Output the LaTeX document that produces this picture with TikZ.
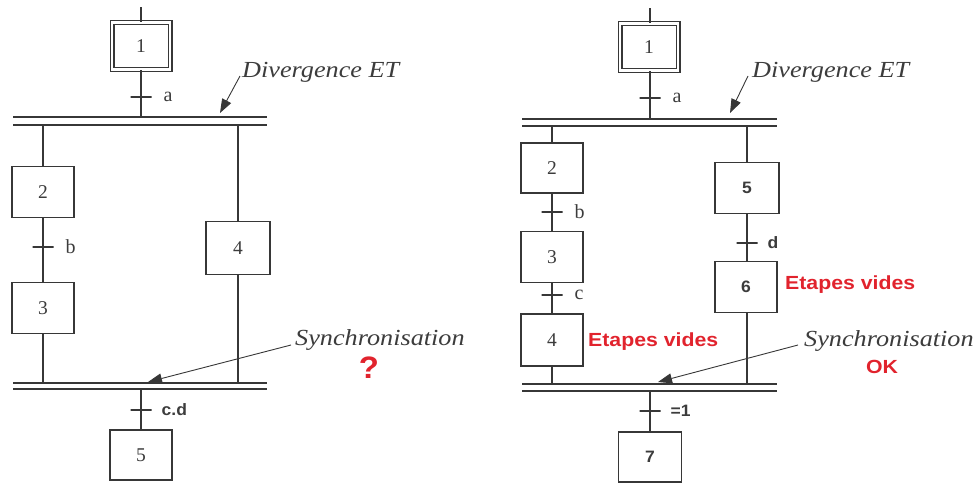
\documentclass[tikz,border=0pt]{standalone}
\usepackage{fontspec}
\setmainfont{Liberation Serif}
\newfontfamily\italfont[FakeStretch=1.14]{Liberation Serif}
\newfontfamily\boldsans[FakeStretch=1.06]{Liberation Sans}
\newfontfamily\redsans[FakeStretch=1.12]{Liberation Sans}
\usetikzlibrary{arrows.meta}
\definecolor{ink}{RGB}{55,55,55}
\definecolor{txt}{RGB}{60,60,60}
\definecolor{redtxt}{RGB}{225,35,45}
\tikzset{
  grline/.style={draw=ink, line width=1.4pt},
  stepbox/.style={draw=ink, line width=1.4pt, rectangle, minimum width=62pt, minimum height=51pt, inner sep=0pt, font=\fontsize{19.5}{22}\selectfont, text=txt},
  bstepbox/.style={stepbox, font=\boldsans\bfseries\fontsize{16.5}{19}\selectfont},
  initbox/.style={draw=ink, line width=1.2pt, double, double distance=2.6pt, rectangle, minimum width=58pt, minimum height=47pt, inner sep=0pt, font=\fontsize{19.5}{22}\selectfont, text=txt},
  trans/.style={draw=ink, line width=1.3pt, rectangle, minimum width=21pt, minimum height=0pt, inner sep=0pt, outer sep=0pt},
  tlab/.style={font=\fontsize{20}{22}\selectfont, text=txt, inner sep=0pt},
  btlab/.style={font=\boldsans\bfseries\fontsize{16.5}{18}\selectfont, text=txt, inner sep=0pt},
  annot/.style={font=\italfont\itshape\fontsize{23}{26}\selectfont, text=txt, inner sep=0pt},
  redlab/.style={font=\redsans\bfseries\fontsize{19}{22}\selectfont, text=redtxt, inner sep=0pt},
  pointer/.style={draw=ink, line width=0.9pt, -{Triangle[length=14pt,width=10pt]}},
}
\begin{document}
\begin{tikzpicture}[x=1pt,y=-1pt]
\useasboundingbox (0,0) rectangle (976,483);
% ================= LEFT =================
\coordinate (Ltop) at (141,7);
\node[initbox] (L1) at (141,46) {1};
\node[trans, label={[tlab,label distance=12pt]right:a}] (LtA) at (141,97) {};
\coordinate (LB1a) at (13,117); \coordinate (LB1b) at (267,117);
\coordinate (LB1c) at (13,125); \coordinate (LB1d) at (267,125);
\node[stepbox] (L2) at (43,192) {2};
\node[trans, label={[tlab,label distance=12pt]right:b}] (LtB) at (43,247) {};
\node[stepbox] (L3) at (43,308) {3};
\node[stepbox, minimum width=64pt, minimum height=53pt] (L4) at (238,248) {4};
\coordinate (LB2a) at (13,383); \coordinate (LB2b) at (267,383);
\coordinate (LB2c) at (13,389); \coordinate (LB2d) at (267,389);
\node[trans, label={[btlab,label distance=10pt]right:c.d}] (LtCD) at (141,410) {};
\node[stepbox, minimum height=50pt] (L5) at (141,455) {5};

\draw[grline] (Ltop) -- (L1.north);
\draw[grline] (L1.south) -- (L1.south |- LB1a);
\draw[grline] (LB1a) -- (LB1b);
\draw[grline] (LB1c) -- (LB1d);
\draw[grline] (L2.north |- LB1c) -- (L2.north);
\draw[grline] (L2.south) -- (L3.north);
\draw[grline] (L3.south) -- (L3.south |- LB2a);
\draw[grline] (L4.north |- LB1c) -- (L4.north);
\draw[grline] (L4.south) -- (L4.south |- LB2a);
\draw[grline] (LB2a) -- (LB2b);
\draw[grline] (LB2c) -- (LB2d);
\draw[grline] (L5.north |- LB2c) -- (L5.north);

\node[annot, anchor=west] (LdivT) at (242,72) {Divergence ET};
\coordinate (LdivS) at (240,76); \coordinate (LdivE) at (220,113);
\draw[pointer] (LdivS) -- (LdivE);
\node[annot, anchor=west] (LsynT) at (295,340) {Synchronisation};
\coordinate (LsynS) at (291,345); \coordinate (LsynE) at (148,382);
\draw[pointer] (LsynS) -- (LsynE);
\node[font=\boldsans\bfseries\fontsize{31}{34}\selectfont, text=redtxt, inner sep=0pt] (Lq) at (369,368) {?};

% ================= RIGHT =================
\coordinate (Rtop) at (650,8);
\node[initbox] (R1) at (649,47) {1};
\node[trans, label={[tlab,label distance=12pt]right:a}] (RtA) at (650,98) {};
\coordinate (RB1a) at (522,119); \coordinate (RB1b) at (777,119);
\coordinate (RB1c) at (522,126); \coordinate (RB1d) at (777,126);
\node[stepbox, minimum height=50pt] (R2) at (552,168) {2};
\node[trans, label={[tlab,label distance=12pt]right:b}] (RtB) at (552,212) {};
\node[stepbox] (R3) at (552,257) {3};
\node[trans, label={[tlab,label distance=12pt]right:c}] (RtC) at (552,295) {};
\node[stepbox, minimum height=52pt] (R4) at (552,340) {4};
\node[bstepbox, minimum width=64pt] (R5) at (747,188) {5};
\node[trans, label={[btlab,label distance=10pt]right:d}] (RtD) at (747,243) {};
\node[bstepbox] (R6) at (746,287) {6};
\coordinate (RB2a) at (522,384); \coordinate (RB2b) at (777,384);
\coordinate (RB2c) at (522,391); \coordinate (RB2d) at (777,391);
\node[trans, label={[btlab,label distance=10pt]right:=1}] (RtE) at (650,411) {};
\node[bstepbox, minimum width=63pt, minimum height=50pt] (R7) at (650,457) {7};

\draw[grline] (Rtop) -- (R1.north -| Rtop);
\draw[grline] (RtA |- R1.south) -- (RtA |- RB1a);
\draw[grline] (RB1a) -- (RB1b);
\draw[grline] (RB1c) -- (RB1d);
\draw[grline] (R2.north |- RB1c) -- (R2.north);
\draw[grline] (R2.south) -- (R3.north);
\draw[grline] (R3.south) -- (R4.north);
\draw[grline] (R4.south) -- (R4.south |- RB2a);
\draw[grline] (R5.north |- RB1c) -- (R5.north);
\draw[grline] (R5.south) -- (R5.south |- R6.north);
\draw[grline] (R5.south |- R6.south) -- (R5.south |- RB2a);
\draw[grline] (RB2a) -- (RB2b);
\draw[grline] (RB2c) -- (RB2d);
\draw[grline] (R7.north |- RB2c) -- (R7.north);

\node[redlab, anchor=west] (Rev1) at (588,342) {Etapes vides};
\node[redlab, anchor=west] (Rev2) at (785,285) {Etapes vides};

\node[annot, anchor=west] (RdivT) at (752,72) {Divergence ET};
\coordinate (RdivS) at (748,76); \coordinate (RdivE) at (730,113);
\draw[pointer] (RdivS) -- (RdivE);
\node[annot, anchor=west] (RsynT) at (804,341) {Synchronisation};
\coordinate (RsynS) at (798,345); \coordinate (RsynE) at (658,382);
\draw[pointer] (RsynS) -- (RsynE);
\node[redlab] (Rok) at (882,367) {OK};
\end{tikzpicture}
\end{document}
